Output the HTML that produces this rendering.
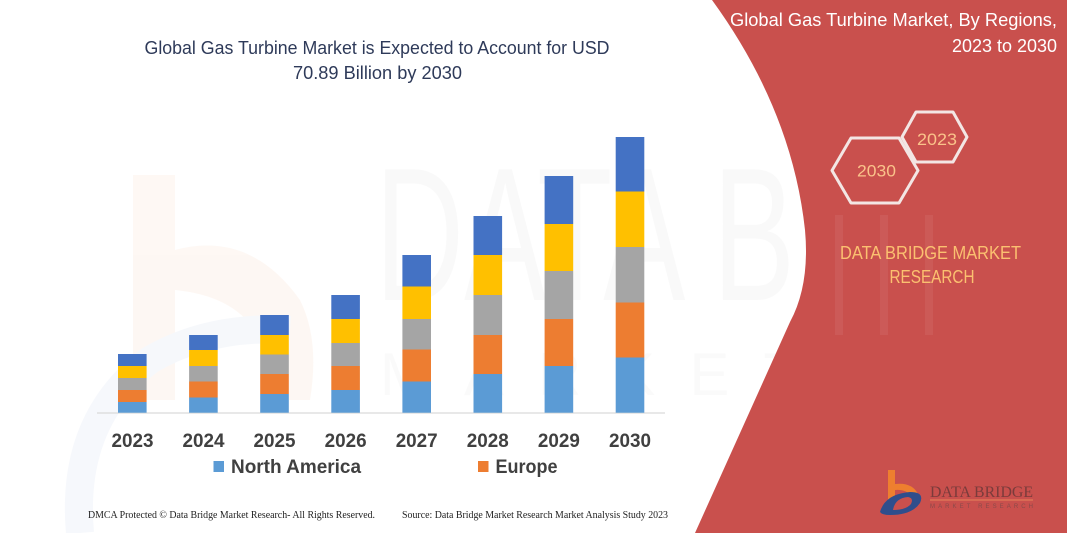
<!DOCTYPE html>
<html><head><meta charset="utf-8"><style>
html,body{margin:0;padding:0;background:#fff;}
svg{display:block;}
</style></head><body>
<svg width="1067" height="533" viewBox="0 0 1067 533" xmlns="http://www.w3.org/2000/svg">
<rect width="1067" height="533" fill="#ffffff"/>
<!-- faint watermarks -->
<g opacity="0.5">
  <path d="M133,175 L175,175 L175,250 Q250,230 300,300 Q320,340 310,400 L270,400 Q275,300 175,290 L175,400 L133,400 Z" fill="#fdf1e9"/>
  <path d="M80,533 Q70,420 150,360 Q210,325 290,330" fill="none" stroke="#eef2f9" stroke-width="28"/>
  <text x="375" y="300" font-family="Liberation Sans, sans-serif" font-size="190" fill="#f5f5f5" textLength="420" lengthAdjust="spacingAndGlyphs">DATA B</text>
  <text x="380" y="395" font-family="Liberation Sans, sans-serif" font-size="60" fill="#f7f7f7" textLength="420" lengthAdjust="spacing">MARKET</text>
</g>
<!-- title -->
<text x="377" y="54" text-anchor="middle" font-family="Liberation Sans, sans-serif" font-size="18" fill="#2E3A59" textLength="465" lengthAdjust="spacingAndGlyphs">Global Gas Turbine Market is Expected to Account for USD</text>
<text x="377.5" y="79" text-anchor="middle" font-family="Liberation Sans, sans-serif" font-size="18" fill="#2E3A59" textLength="169" lengthAdjust="spacingAndGlyphs">70.89 Billion by 2030</text>
<!-- axis -->
<line x1="97" y1="413" x2="665" y2="413" stroke="#d9d9d9" stroke-width="1.2"/>
<!-- bars -->
<g>
  <rect x="118" y="354" width="28.6" height="12" fill="#4472C4"/>
  <rect x="118" y="366" width="28.6" height="12" fill="#FFC000"/>
  <rect x="118" y="378" width="28.6" height="12" fill="#A5A5A5"/>
  <rect x="118" y="390" width="28.6" height="12" fill="#ED7D31"/>
  <rect x="118" y="402" width="28.6" height="10.7" fill="#5B9BD5"/>
  <rect x="189.1" y="335" width="28.6" height="15" fill="#4472C4"/>
  <rect x="189.1" y="350" width="28.6" height="16" fill="#FFC000"/>
  <rect x="189.1" y="366" width="28.6" height="15.5" fill="#A5A5A5"/>
  <rect x="189.1" y="381.5" width="28.6" height="16" fill="#ED7D31"/>
  <rect x="189.1" y="397.5" width="28.6" height="15.2" fill="#5B9BD5"/>
  <rect x="260.2" y="315" width="28.6" height="20" fill="#4472C4"/>
  <rect x="260.2" y="335" width="28.6" height="19.5" fill="#FFC000"/>
  <rect x="260.2" y="354.5" width="28.6" height="19.5" fill="#A5A5A5"/>
  <rect x="260.2" y="374" width="28.6" height="20" fill="#ED7D31"/>
  <rect x="260.2" y="394" width="28.6" height="18.7" fill="#5B9BD5"/>
  <rect x="331.3" y="295" width="28.6" height="24" fill="#4472C4"/>
  <rect x="331.3" y="319" width="28.6" height="24" fill="#FFC000"/>
  <rect x="331.3" y="343" width="28.6" height="23" fill="#A5A5A5"/>
  <rect x="331.3" y="366" width="28.6" height="24" fill="#ED7D31"/>
  <rect x="331.3" y="390" width="28.6" height="22.7" fill="#5B9BD5"/>
  <rect x="402.4" y="255" width="28.6" height="31.5" fill="#4472C4"/>
  <rect x="402.4" y="286.5" width="28.6" height="32.5" fill="#FFC000"/>
  <rect x="402.4" y="319" width="28.6" height="30.5" fill="#A5A5A5"/>
  <rect x="402.4" y="349.5" width="28.6" height="32" fill="#ED7D31"/>
  <rect x="402.4" y="381.5" width="28.6" height="31.2" fill="#5B9BD5"/>
  <rect x="473.5" y="216" width="28.6" height="39" fill="#4472C4"/>
  <rect x="473.5" y="255" width="28.6" height="40" fill="#FFC000"/>
  <rect x="473.5" y="295" width="28.6" height="40" fill="#A5A5A5"/>
  <rect x="473.5" y="335" width="28.6" height="39" fill="#ED7D31"/>
  <rect x="473.5" y="374" width="28.6" height="38.7" fill="#5B9BD5"/>
  <rect x="544.6" y="176" width="28.6" height="48" fill="#4472C4"/>
  <rect x="544.6" y="224" width="28.6" height="47" fill="#FFC000"/>
  <rect x="544.6" y="271" width="28.6" height="48" fill="#A5A5A5"/>
  <rect x="544.6" y="319" width="28.6" height="47" fill="#ED7D31"/>
  <rect x="544.6" y="366" width="28.6" height="46.7" fill="#5B9BD5"/>
  <rect x="615.7" y="137" width="28.6" height="54.5" fill="#4472C4"/>
  <rect x="615.7" y="191.5" width="28.6" height="55.5" fill="#FFC000"/>
  <rect x="615.7" y="247" width="28.6" height="55.5" fill="#A5A5A5"/>
  <rect x="615.7" y="302.5" width="28.6" height="55" fill="#ED7D31"/>
  <rect x="615.7" y="357.5" width="28.6" height="55.2" fill="#5B9BD5"/>
</g>
<!-- year labels -->
<g font-family="Liberation Sans, sans-serif" font-weight="bold" font-size="19" fill="#404040" text-anchor="middle">
  <text x="132.5" y="447" textLength="42" lengthAdjust="spacingAndGlyphs">2023</text>
  <text x="203.5" y="447" textLength="42" lengthAdjust="spacingAndGlyphs">2024</text>
  <text x="274.5" y="447" textLength="42" lengthAdjust="spacingAndGlyphs">2025</text>
  <text x="345.6" y="447" textLength="42" lengthAdjust="spacingAndGlyphs">2026</text>
  <text x="416.7" y="447" textLength="42" lengthAdjust="spacingAndGlyphs">2027</text>
  <text x="487.8" y="447" textLength="42" lengthAdjust="spacingAndGlyphs">2028</text>
  <text x="558.9" y="447" textLength="42" lengthAdjust="spacingAndGlyphs">2029</text>
  <text x="630" y="447" textLength="42" lengthAdjust="spacingAndGlyphs">2030</text>
</g>
<!-- legend -->
<rect x="213.5" y="461" width="10.5" height="11" fill="#5B9BD5"/>
<text x="231" y="473" font-family="Liberation Sans, sans-serif" font-weight="bold" font-size="19" fill="#404040" textLength="130" lengthAdjust="spacingAndGlyphs">North America</text>
<rect x="478" y="461" width="10.5" height="11" fill="#ED7D31"/>
<text x="495.5" y="473" font-family="Liberation Sans, sans-serif" font-weight="bold" font-size="19" fill="#404040" textLength="62" lengthAdjust="spacingAndGlyphs">Europe</text>
<!-- footer -->
<text x="88" y="518" font-family="Liberation Serif, serif" font-size="10" fill="#222" textLength="287" lengthAdjust="spacingAndGlyphs">DMCA Protected © Data Bridge Market Research-  All Rights Reserved.</text>
<text x="402" y="518" font-family="Liberation Serif, serif" font-size="10" fill="#222" textLength="266" lengthAdjust="spacingAndGlyphs">Source:  Data Bridge Market Research  Market Analysis Study 2023</text>
<!-- red panel -->
<path d="M712,0 Q792,110 805,230 Q810,285 790,322 L695,533 L1067,533 L1067,0 Z" fill="#C9504D"/>
<g opacity="0.06" fill="#ffffff">
  <rect x="835" y="215" width="8" height="120"/>
  <rect x="880" y="215" width="8" height="120"/>
  <rect x="925" y="215" width="8" height="120"/>
</g>
<text x="1057" y="26" text-anchor="end" font-family="Liberation Sans, sans-serif" font-size="18" fill="#ffffff" textLength="327" lengthAdjust="spacingAndGlyphs">Global Gas Turbine Market, By Regions,</text>
<text x="1057" y="52" text-anchor="end" font-family="Liberation Sans, sans-serif" font-size="18" fill="#ffffff" textLength="105" lengthAdjust="spacingAndGlyphs">2023 to 2030</text>
<!-- hexagons -->
<polygon points="902,137 916,112 953,112 967,137 953,162 916,162" fill="none" stroke="#f3e6e4" stroke-width="3" stroke-linejoin="round"/>
<polygon points="832,170.5 851,138 899,138 918,170.5 899,203 851,203" fill="none" stroke="#f3e6e4" stroke-width="3" stroke-linejoin="round"/>
<text x="937" y="145" text-anchor="middle" font-family="Liberation Sans, sans-serif" font-size="17" fill="#FAC38A" textLength="40" lengthAdjust="spacingAndGlyphs">2023</text>
<text x="876.5" y="176.5" text-anchor="middle" font-family="Liberation Sans, sans-serif" font-size="17" fill="#FAC38A" textLength="39" lengthAdjust="spacingAndGlyphs">2030</text>
<text x="930.5" y="259" text-anchor="middle" font-family="Liberation Sans, sans-serif" font-size="18" fill="#FBC070" textLength="181" lengthAdjust="spacingAndGlyphs">DATA BRIDGE MARKET</text>
<text x="932" y="283" text-anchor="middle" font-family="Liberation Sans, sans-serif" font-size="18" fill="#FBC070" textLength="85" lengthAdjust="spacingAndGlyphs">RESEARCH</text>
<!-- logo -->
<g>
  <path d="M888,470 L895,470 L895,484 Q912,482 918,494 L911,496 Q906,489 895,490 L895,500 L888,500 Z" fill="#EE7F2F"/>
  <path d="M880,512 Q885,494 910,492 Q925,492 920,503 Q912,515 890,515 Q882,515 880,512 Z" fill="#2F4E8C"/>
  <path d="M893,510 Q895,498 908,497 Q914,498 911,504 Q906,510 893,510 Z" fill="#C9504D"/>
  <text x="930" y="497" font-family="Liberation Serif, serif" font-size="16" fill="#7A3B3B" textLength="103" lengthAdjust="spacingAndGlyphs">DATA BRIDGE</text>
  <line x1="930" y1="500" x2="1033" y2="500" stroke="#E8835A" stroke-width="1"/>
  <text x="930" y="508" font-family="Liberation Sans, sans-serif" font-size="6" fill="#8a4a4a" textLength="103" lengthAdjust="spacing">MARKET RESEARCH</text>
</g>
</svg>
</body></html>
